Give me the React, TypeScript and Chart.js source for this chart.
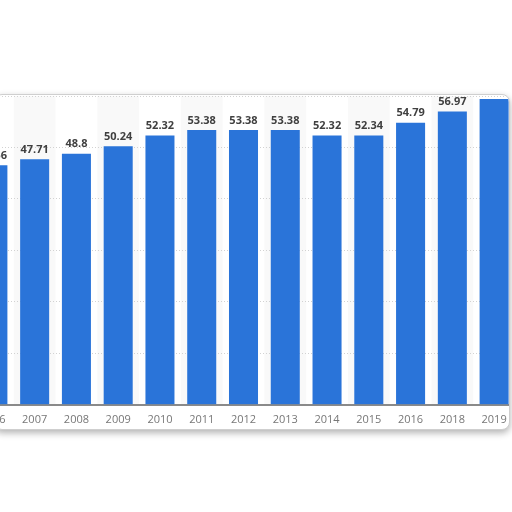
import { Chart, registerables } from 'chart.js';
import { useRef, useEffect } from 'react';

Chart.register(...registerables);

const years = ['2006', '2007', '2008', '2009', '2010', '2011', '2012', '2013', '2014', '2015', '2016', '2018', '2019'];
const values = [46.56, 47.71, 48.8, 50.24, 52.32, 53.38, 53.38, 53.38, 52.32, 52.34, 54.79, 56.97, 59.4];

const BAR_BLUE = '#2a74d9';

// light stripes behind every other column
const stripes = {
    id: 'stripes',
    beforeDraw(chart: any) {
        const { ctx, chartArea, scales } = chart;
        const xs = scales.x;
        const w = (chartArea.right - chartArea.left) / years.length;
        ctx.save();
        ctx.fillStyle = '#f9f9f9';
        years.forEach((_, i) => {
            if (i % 2 === 1) {
                const cx = xs.getPixelForValue(i);
                ctx.fillRect(cx - w / 2, chartArea.top, w, chartArea.bottom - chartArea.top);
            }
        });
        ctx.restore();
    }
};

// value labels above each bar
const barLabels = {
    id: 'barLabels',
    afterDatasetsDraw(chart: any) {
        const { ctx } = chart;
        const meta = chart.getDatasetMeta(0);
        ctx.save();
        ctx.font = 'bold 11px "Open Sans"';
        ctx.fillStyle = '#404040';
        ctx.textAlign = 'center';
        ctx.textBaseline = 'bottom';
        meta.data.forEach((bar: any, i: number) => {
            ctx.fillText(String(values[i]), bar.x, bar.y - 4);
        });
        ctx.restore();
    }
};

const BarChart = () => {
    const chartRef = useRef<HTMLCanvasElement>(null);

    useEffect(() => {
        let myChart: any = null;

        if (chartRef.current) {
            myChart = new Chart(chartRef.current, {
                type: 'bar',
                data: {
                    labels: years,
                    datasets: [{
                        data: values,
                        backgroundColor: BAR_BLUE,
                        categoryPercentage: 1,
                        barPercentage: 0.695
                    }]
                },
                options: {
                    responsive: false,
                    animation: false,
                    layout: { padding: { top: 20, bottom: 6, left: 0, right: 0 } },
                    plugins: {
                        legend: { display: false },
                        tooltip: { enabled: false }
                    },
                    scales: {
                        x: {
                            grid: { display: false },
                            border: { display: true, color: '#8a8a8a', width: 2 },
                            ticks: {
                                color: '#777777',
                                padding: 0,
                                font: { family: '"Open Sans"', size: 11 }
                            }
                        },
                        y: {
                            min: 0,
                            max: 60,
                            ticks: { display: false, stepSize: 10 },
                            grid: { color: '#d2d2d2', drawTicks: false, lineWidth: 1 },
                            border: { display: false, dash: [1, 2] }
                        }
                    }
                },
                plugins: [stripes, barLabels]
            });
        }

        return () => {
            if (myChart) {
                myChart.destroy();
            }
        };
    }, []);

    return (
        <div style={{ position: 'fixed', left: 0, top: 0, width: 512, height: 512, overflow: 'hidden', background: '#fff' }}>
            <div style={{
                position: 'absolute', left: -6, top: 94, width: 514, height: 334,
                border: '1px solid #cfcfcf', borderRadius: 8, overflow: 'hidden',
                background: '#fff', boxShadow: '0 3px 7px rgba(0,0,0,0.3)'
            }}>
                <canvas
                    ref={chartRef}
                    width={543}
                    height={356}
                    style={{ position: 'absolute', left: -23, top: -19, width: 543, height: 356 }}
                ></canvas>
            </div>
        </div>
    );
};

export default function App() {
    return <BarChart />;
}
